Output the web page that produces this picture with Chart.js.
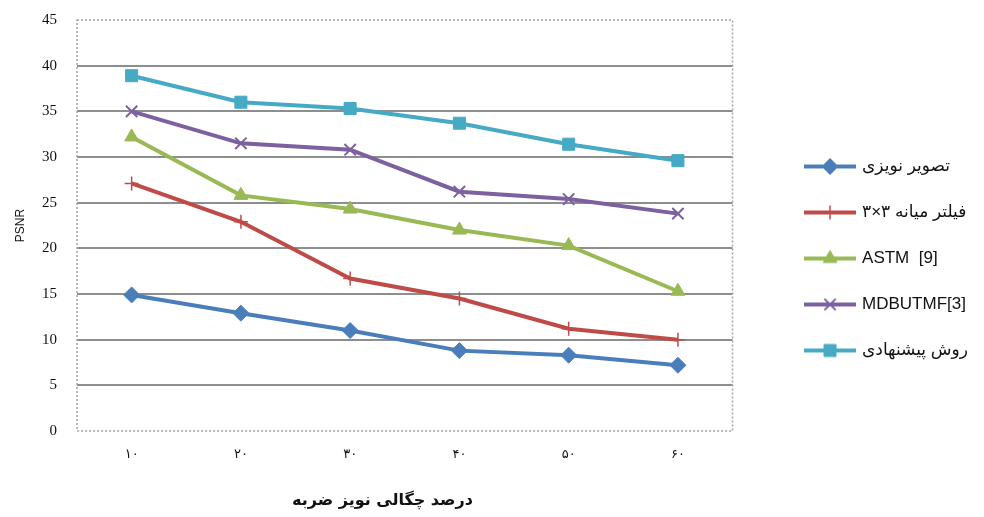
<!DOCTYPE html>
<html>
<head>
<meta charset="utf-8">
<title>PSNR</title>
<script src="https://cdn.jsdelivr.net/npm/chart.js@4/dist/chart.umd.min.js"></script>
<style>
  html, body { margin: 0; padding: 0; background: #fff; }
  #psnr-chart { display: block; }
</style>
</head>
<body>
<canvas id="psnr-chart" width="984" height="517"></canvas>
<script>
/* ===================== DATA ===================== */

const noiseLevels = ["۱۰", "۲۰", "۳۰", "۴۰", "۵۰", "۶۰"];
const yTicks = [0, 5, 10, 15, 20, 25, 30, 35, 40, 45];

const seriesNames = [
  "تصویر نویزی",
  "فیلتر میانه ۳×۳",
  "ASTM  [9]",
  "MDBUTMF[3]",
  "روش پیشنهادی",
];

const noisyImage = [14.9, 12.9, 11.0, 8.8, 8.3, 7.2];
const median3x3 = [27.1, 22.9, 16.7, 14.5, 11.2, 10.0];
const astm = [32.2, 25.8, 24.3, 22.0, 20.3, 15.3];
const mdbutmf = [35.0, 31.5, 30.8, 26.2, 25.4, 23.8];
const proposed = [38.9, 36.0, 35.3, 33.7, 31.4, 29.6];

const xTitle = "درصد چگالی نویز ضربه";
const yTitle = "PSNR";

/* ===================== STYLE ===================== */

const seriesStyle = [
  { color: "#4a7ebb", point: "rectRot", radius: 8, width: 1 },
  { color: "#be4b48", point: "cross", radius: 7, width: 1.5 },
  { color: "#98b954", point: "triangle", radius: 8, width: 1 },
  { color: "#7d60a0", point: "crossRot", radius: 8, width: 2 },
  { color: "#46aac5", point: "rect", radius: 8.5, width: 1 },
];

const seriesData = [noisyImage, median3x3, astm, mdbutmf, proposed];

const datasets = seriesData.map((values, i) => {
  const s = seriesStyle[i];
  return {
    label: seriesNames[i],
    data: values,
    borderColor: s.color,
    backgroundColor: s.color,
    borderWidth: 4,
    tension: 0,
    pointStyle: s.point,
    pointRadius: s.radius,
    pointBorderWidth: s.width,
    pointBackgroundColor: s.color,
    pointBorderColor: s.color,
  };
});

// small line + marker swatch for each legend entry
function legendSwatch(ds) {
  const c = document.createElement("canvas");
  c.width = 52;
  c.height = 20;
  const g = c.getContext("2d");
  g.strokeStyle = ds.borderColor;
  g.lineWidth = 4;
  g.beginPath();
  g.moveTo(0, 10);
  g.lineTo(52, 10);
  g.stroke();
  g.fillStyle = ds.pointBackgroundColor;
  g.strokeStyle = ds.pointBorderColor;
  g.lineWidth = ds.pointBorderWidth;
  Chart.helpers.drawPoint(
    g,
    { pointStyle: ds.pointStyle, radius: ds.pointRadius, rotation: 0, borderWidth: ds.pointBorderWidth },
    26,
    10
  );
  return c;
}

const swatches = datasets.map(legendSwatch);

// dashed frame round the plot area
const plotFrame = {
  id: "plotFrame",
  beforeDatasetsDraw(chart) {
    const { ctx, chartArea: a } = chart;
    ctx.save();
    ctx.strokeStyle = "#a3a3a3";
    ctx.lineWidth = 1.5;
    ctx.setLineDash([2, 2]);
    ctx.strokeRect(a.left, a.top, a.right - a.left, a.bottom - a.top);
    ctx.restore();
  },
};

/* ===================== CHART ===================== */

new Chart(document.getElementById("psnr-chart"), {
  type: "line",
  data: { labels: noiseLevels, datasets },
  plugins: [plotFrame],
  options: {
    responsive: false,
    animation: false,
    layout: { padding: { left: 8, top: 20, right: 6, bottom: 20 } },
    plugins: {
      tooltip: { enabled: false },
      legend: {
        position: "right",
        align: "center",
        maxWidth: 320,
        labels: {
          usePointStyle: true,
          pointStyleWidth: 47,
          padding: 29,
          color: "#111",
          font: { family: '"Liberation Sans", "DejaVu Sans", sans-serif', size: 17 },
          generateLabels(chart) {
            const items = Chart.defaults.plugins.legend.labels.generateLabels(chart);
            items.forEach((it, i) => {
              it.pointStyle = swatches[i];
            });
            return items;
          },
        },
      },
    },
    scales: {
      x: {
        offset: true,
        grid: { display: false, drawTicks: false },
        border: { display: false },
        ticks: {
          padding: 16,
          color: "#111",
          font: { family: '"DejaVu Sans", sans-serif', size: 13 },
        },
        title: {
          display: true,
          // trailing spaces nudge the centred title a little to the left
          text: xTitle + "\u00a0".repeat(8),
          color: "#111",
          font: { family: '"DejaVu Sans", sans-serif', size: 16, weight: "bold" },
          padding: { top: 0, bottom: -13 },
        },
        afterFit(scale) {
          scale.height = 66;
        },
      },
      y: {
        min: 0,
        max: 45,
        afterBuildTicks(scale) {
          scale.ticks = yTicks.map((v) => ({ value: v }));
        },
        grid: {
          drawTicks: true,
          tickLength: 18,
          tickColor: "rgba(0,0,0,0)",
          lineWidth: 2,
          color: (ctx) =>
            ctx.tick && (ctx.tick.value === 0 || ctx.tick.value === 45) ? "rgba(0,0,0,0)" : "#8e8e8e",
        },
        border: { display: false },
        ticks: {
          padding: 2,
          color: "#111",
          font: { family: '"Liberation Serif", serif', size: 15 },
        },
        title: {
          display: true,
          text: yTitle,
          color: "#111",
          font: { family: '"Liberation Sans", sans-serif', size: 12 },
          padding: { top: 5, bottom: 0 },
        },
        afterFit(scale) {
          scale.width = 69;
        },
      },
      // empty spacer between the plot and the legend
      gap: {
        position: "right",
        display: true,
        grid: { display: false },
        border: { display: false },
        ticks: { display: false },
        afterFit(scale) {
          scale.width = 45;
        },
      },
    },
  },
});
</script>
</body>
</html>
